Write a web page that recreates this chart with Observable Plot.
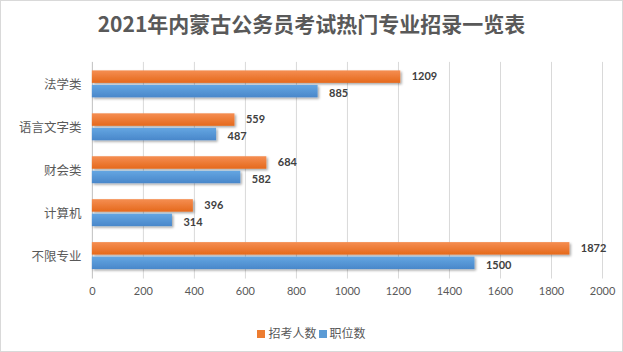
<!DOCTYPE html>
<html>
<head>
<meta charset="utf-8">
<script src="https://cdn.jsdelivr.net/npm/d3@7"></script>
<script src="https://cdn.jsdelivr.net/npm/@observablehq/plot@0.6"></script>
<style>
  html, body { margin: 0; padding: 0; background: #fff; }
  #wrap { position: relative; width: 623px; height: 352px; box-sizing: border-box; border: 1px solid #d9d9d9; overflow: hidden; background: #fff; }
  #title { position: absolute; left: 0; top: 8px; width: 621px; text-align: center; font-family: "Noto Sans CJK SC", sans-serif; font-weight: bold; font-size: 21px; color: #595959; line-height: 28px; }
  #chart { position: absolute; left: -1px; top: -1px; }
  #legend { position: absolute; left: 0; top: 323px; width: 621px; text-align: center; font-family: "Noto Sans CJK SC", sans-serif; font-size: 12px; color: #595959; line-height: 18px; }
  .sw { display: inline-block; width: 8px; height: 8px; margin-right: 3px; vertical-align: 0px; }
  .item { margin: 0 1px; }
</style>
</head>
<body>
<div id="wrap">
  <div id="chart"></div>
  <div id="title">2021年内蒙古公务员考试热门专业招录一览表</div>
  <div id="legend"></div>
</div>
<script>
const categories = ["法学类", "语言文字类", "财会类", "计算机", "不限专业"];
const seriesNames = ["招考人数", "职位数"];
const recruits = [1209, 559, 684, 396, 1872];
const positions = [885, 487, 582, 314, 1500];
const xTicks = [0, 200, 400, 600, 800, 1000, 1200, 1400, 1600, 1800, 2000];
const seriesColors = ["#ED7D31", "#5B9BD5"];

const rowsA = categories.map((c, i) => ({category: c, series: seriesNames[0], value: recruits[i]}));
const rowsB = categories.map((c, i) => ({category: c, series: seriesNames[1], value: positions[i]}));

const chart = Plot.plot({
  width: 623,
  height: 352,
  marginTop: 62,
  marginBottom: 73,
  marginLeft: 92,
  marginRight: 20,
  style: {fontFamily: "'Noto Sans CJK SC', sans-serif", color: "#595959", background: "transparent"},
  x: {domain: [0, 2000], ticks: xTicks, label: null},
  y: {domain: categories, padding: 0, label: null},
  marks: [
    Plot.gridX(xTicks.slice(1), {stroke: "#d9d9d9", strokeOpacity: 1}),
    Plot.ruleX([0], {stroke: "#bfbfbf"}),
    Plot.barX(rowsA, {y: "category", x: "value", fill: "url(#gradA)", insetTop: 7.5, insetBottom: 23}),
    Plot.barX(rowsB, {y: "category", x: "value", fill: "url(#gradB)", insetTop: 22, insetBottom: 8.5}),
    Plot.text(rowsA, {y: "category", x: "value", text: d => String(d.value), dx: 11, dy: -8, textAnchor: "start", fontWeight: "bold", fontSize: 11, fill: "#404040", fontFamily: "Lato, 'Noto Sans CJK SC', sans-serif"}),
    Plot.text(rowsB, {y: "category", x: "value", text: d => String(d.value), dx: 11, dy: 9, textAnchor: "start", fontWeight: "bold", fontSize: 11, fill: "#404040", fontFamily: "Lato, 'Noto Sans CJK SC', sans-serif"}),
    Plot.axisX({ticks: xTicks, tickSize: 0, tickPadding: 8, fontSize: 11, fontFamily: "Lato, sans-serif", tickFormat: d => String(d), label: null}),
    Plot.axisY({tickSize: 0, tickPadding: 11, fontSize: 12.5, label: null})
  ]
});

const svg = d3.select(chart);
svg.insert("defs", ":first-child").html(`
  <linearGradient id="gradA" x1="0" y1="0" x2="0" y2="1">
    <stop offset="0" stop-color="#F58E52"/>
    <stop offset="1" stop-color="#E5691B"/>
  </linearGradient>
  <linearGradient id="gradB" x1="0" y1="0" x2="0" y2="1">
    <stop offset="0" stop-color="#64A6E2"/>
    <stop offset="1" stop-color="#4987CA"/>
  </linearGradient>
  <filter id="shadow" x="-5%" y="-30%" width="110%" height="170%">
    <feDropShadow dx="1.5" dy="1.5" stdDeviation="1.2" flood-color="#000" flood-opacity="0.35"/>
  </filter>`);
svg.selectAll("g[aria-label='bar']").attr("filter", "url(#shadow)");
document.getElementById("chart").appendChild(chart);

const legend = d3.select("#legend");
seriesNames.forEach((s, i) => {
  const item = legend.append("span").attr("class", "item");
  item.append("span").attr("class", "sw").style("background", seriesColors[i]);
  item.append("span").text(s);
});
</script>
</body>
</html>
